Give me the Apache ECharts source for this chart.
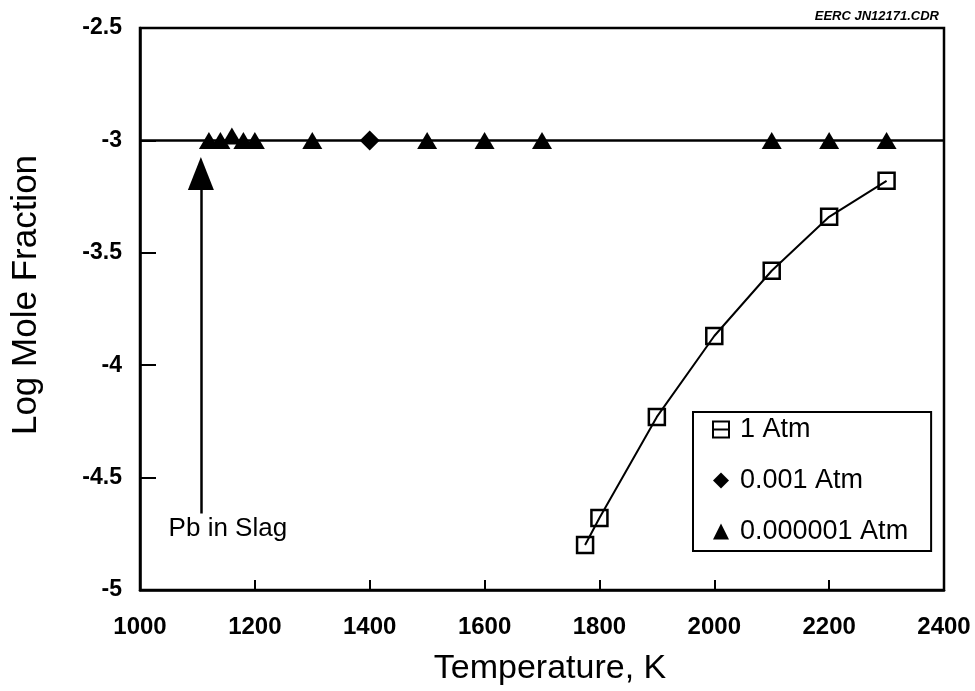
<!DOCTYPE html>
<html>
<head>
<meta charset="utf-8">
<script src="https://cdn.jsdelivr.net/npm/echarts@6/dist/echarts.min.js"></script>
<style>
  html, body { margin: 0; padding: 0; background: #fff; }
  #chart { width: 975px; height: 691px; }
</style>
</head>
<body>
<div id="chart"></div>
<script>
// 1 Atm
var temp1 = [1775, 1800, 1900, 2000, 2100, 2200, 2300];
var log1 = [-4.80, -4.68, -4.23, -3.87, -3.58, -3.34, -3.18];
// 0.001 Atm
var temp2 = [1400];
var log2 = [-3];
// 0.000001 Atm
var temp3 = [1120, 1140, 1160, 1180, 1200, 1300, 1500, 1600, 1700, 2100, 2200, 2300];
var log3 = [-3, -3, -2.98, -3, -3, -3, -3, -3, -3, -3, -3, -3];
var seriesNames = ['1 Atm', '0.001 Atm', '0.000001 Atm'];
// "Pb in Slag" arrow
var arrowTemp = 1106;
var arrowFrom = -4.66, arrowTo = -3.147;

function pairs(xs, ys) {
    return xs.map(function (x, i) { return [x, ys[i]]; });
}

var font = 'Liberation Sans, Arial, sans-serif';
var myChart = echarts.init(document.getElementById('chart'));
var option = {
    animation: false,
    backgroundColor: '#fff',
    title: {
        text: 'EERC JN12171.CDR',
        right: 31, top: 5,
        textStyle: { fontFamily: font, fontSize: 13, fontWeight: 'bold', fontStyle: 'italic', color: '#000' }
    },
    grid: {
        left: 140, right: 31, top: 28, bottom: 101,
        show: true, borderColor: '#000', borderWidth: 2.5
    },
    legend: {
        orient: 'vertical',
        left: 693, top: 412,
        borderColor: '#000', borderWidth: 2,
        padding: [4, 23, 6, 19],
        itemGap: 24,
        itemWidth: 16, itemHeight: 20,
        textStyle: { fontFamily: font, fontSize: 27, color: '#000', padding: [0, 0, 0, 6] },
        data: seriesNames
    },
    xAxis: {
        type: 'value', min: 1000, max: 2400, interval: 200,
        name: 'Temperature, K', nameLocation: 'middle', nameGap: 62,
        nameTextStyle: { fontFamily: font, fontSize: 34, color: '#000', padding: [0, 0, 0, 16] },
        axisLine: { lineStyle: { color: '#000', width: 2.5 } },
        axisTick: { inside: true, length: 10, lineStyle: { color: '#000', width: 2 } },
        axisLabel: {
            margin: 25, fontFamily: font, fontSize: 24, fontWeight: 'bold', color: '#000',
            formatter: function (v) { return String(v); }
        },
        splitLine: { show: false }
    },
    yAxis: {
        type: 'value', min: -5, max: -2.5, interval: 0.5,
        name: 'Log Mole Fraction', nameLocation: 'middle', nameGap: 96,
        nameTextStyle: { fontFamily: font, fontSize: 35, color: '#000', padding: [0, 0, 0, 28] },
        axisLine: { lineStyle: { color: '#000', width: 2.5 } },
        axisTick: { inside: true, length: 16, lineStyle: { color: '#000', width: 2 } },
        axisLabel: { margin: 18, fontFamily: font, fontSize: 23, fontWeight: 'bold', color: '#000' },
        splitLine: { show: false }
    },
    series: [
        {
            name: seriesNames[0],
            type: 'line',
            data: pairs(temp1, log1),
            symbol: 'rect', symbolSize: 16,
            lineStyle: { color: '#000', width: 2 },
            itemStyle: { color: 'rgba(255,255,255,0)', borderColor: '#000', borderWidth: 2.5 },
            z: 3
        },
        {
            name: seriesNames[1],
            type: 'line',
            data: pairs(temp2, log2),
            symbol: 'diamond', symbolSize: [20, 20],
            lineStyle: { width: 0 },
            itemStyle: { color: '#000' },
            markLine: {
                silent: true,
                symbol: ['none', 'none'],
                label: { show: false },
                lineStyle: { color: '#000', width: 2.5, type: 'solid' },
                data: [{ yAxis: -3 }]
            }
        },
        {
            name: seriesNames[2],
            type: 'line',
            data: pairs(temp3, log3),
            symbol: 'triangle', symbolSize: [20, 17],
            lineStyle: { width: 0 },
            itemStyle: { color: '#000' },
            markLine: {
                silent: true,
                symbol: ['none', 'triangle'],
                symbolSize: [26, 33],
                lineStyle: { color: '#000', width: 2.5, type: 'solid' },
                label: {
                    show: true, position: 'start', distance: 2,
                    formatter: 'Pb in Slag',
                    padding: [0, 0, 0, 54],
                    fontFamily: font, fontSize: 26, color: '#000'
                },
                data: [[{ coord: [arrowTemp, arrowFrom] }, { coord: [arrowTemp, arrowTo] }]]
            }
        }
    ]
};
myChart.setOption(option);
window.addEventListener('resize', function () {
    myChart.resize();
});
</script>
</body>
</html>
